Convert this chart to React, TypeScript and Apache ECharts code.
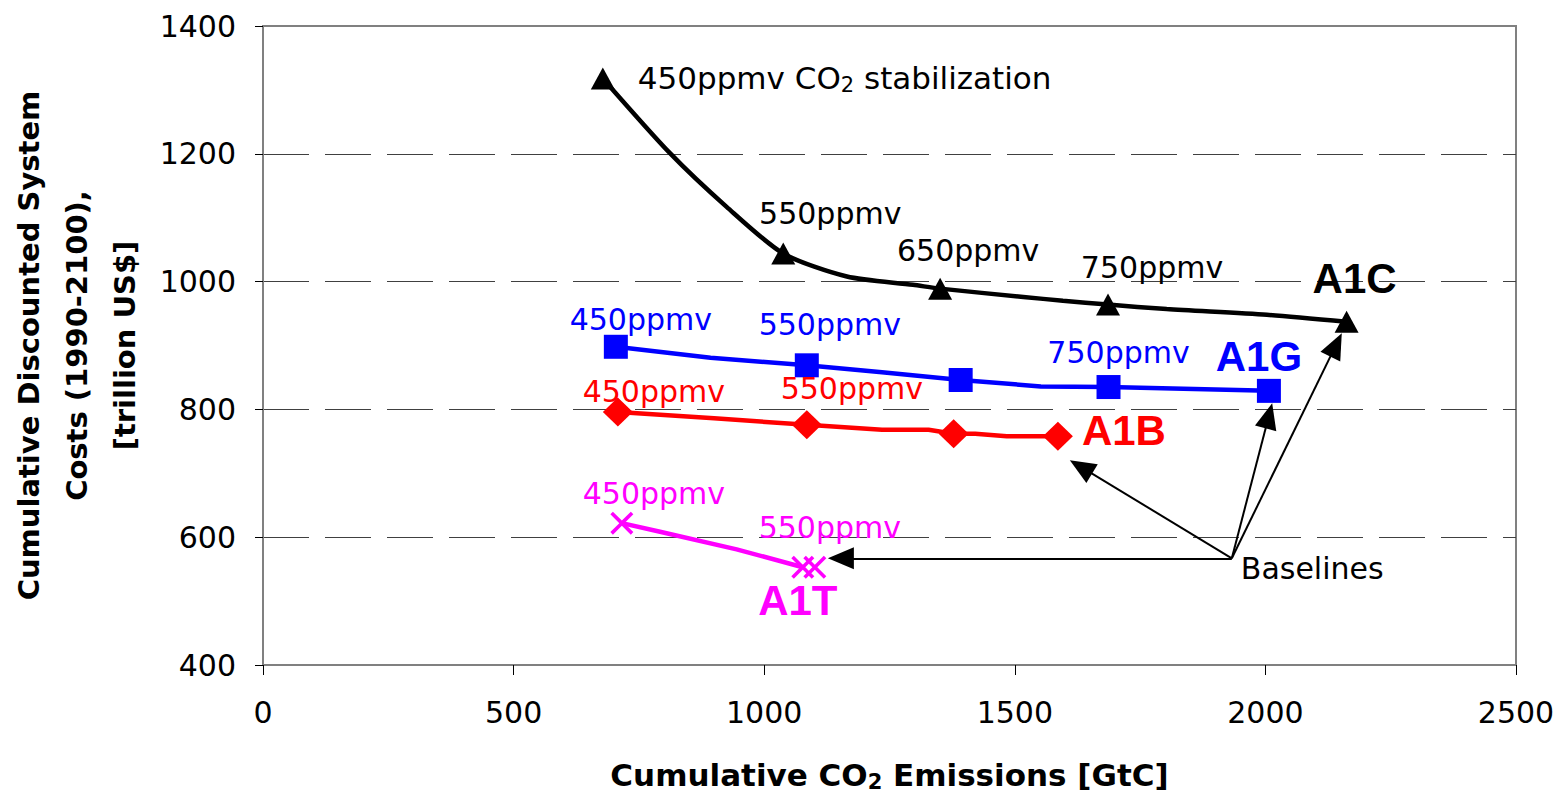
import React, { useEffect, useRef } from 'react';
import * as echarts from 'echarts';

// ---------- data ----------
const xTicks = [0, 500, 1000, 1500, 2000, 2500];
const yTicks = [400, 600, 800, 1000, 1200, 1400];

// A1C (black, triangles)
const a1cPath = [[678, 1318], [812, 1201], [925, 1117], [1038, 1044], [1165, 1008], [1297, 995], [1351, 989], [1517, 976], [1596, 970], [1686, 964], [1803, 957], [2003, 948], [2162, 937]];
const a1cMarks = [[678, 1318], [1038, 1044], [1351, 989], [1686, 964], [2162, 937]];
const a1cLabels = ['450ppmv CO{sub|2} stabilization', '550ppmv', '650ppmv', '750ppmv', 'A1C'];

// A1G (blue, squares)
const a1gPath = [[704, 898], [893, 881], [1085, 869], [1235, 858], [1392, 846], [1552, 836], [1687, 835], [2007, 829]];
const a1gMarks = [[704, 898], [1085, 869], [1392, 846], [1687, 835], [2007, 829]];
const a1gLabels = ['450ppmv', '550ppmv', '', '750ppmv', 'A1G'];

// A1B (red, diamonds)
const a1bPath = [[708, 796], [900, 786], [1085, 776], [1235, 768], [1328, 768], [1378, 762], [1421, 762], [1484, 758], [1586, 758]];
const a1bMarks = [[708, 796], [1085, 776], [1378, 762], [1586, 758]];
const a1bLabels = ['450ppmv', '550ppmv', '', 'A1B'];

// A1T (magenta, crosses)
const a1tPath = [[716, 622], [790, 609], [945, 581], [1077, 553]];
const a1tMarks = [[716, 622], [1077, 553], [1101, 553]];
const a1tLabels = ['450ppmv', '550ppmv', 'A1T'];

// Baselines annotation
const baselineFrom = [1933, 567];
const baselineTo = [[1153, 567], [1632, 710], [2007, 790], [2141, 901]];

// ---------- label layout (pixel offsets from marker centre) ----------
const a1cOffsets = [[35, 0], [47, -40], [28, -38], [44, -37], [8, -43]];
const a1gOffsets = [[25, -27], [23, -41], [0, 0], [10, -35], [-10, -34]];
const a1bOffsets = [[36, -20], [45, -36], [0, 0], [66, -6]];
const a1tOffsets = [[32, -30], [27, -40], [-17, 33]];

const FONT = 'DejaVu Sans';
const BOLD_FONT = 'Liberation Sans';
const X_SYMBOL = 'path://M0,1.1L1.1,0L5,3.9L8.9,0L10,1.1L6.1,5L10,8.9L8.9,10L5,6.1L1.1,10L0,8.9L3.9,5Z';

function buildMarks(points: number[][], labels: string[], offsets: number[][], color: string) {
  return points.map((p, i) => {
    const text = labels[i];
    if (!text) return { value: p, label: { show: false } };
    const isName = /^A1/.test(text);
    const isLong = text.indexOf('stabilization') >= 0;
    return {
      value: p,
      label: {
        show: true,
        position: 'inside',
        formatter: text,
        offset: offsets[i],
        color,
        opacity: 1,
        fontFamily: isName ? BOLD_FONT : FONT,
        fontWeight: isName ? 'bold' : 'normal',
        fontSize: isName ? 42 : isLong ? 31 : 30,
        align: isLong ? 'left' : 'center',
        verticalAlign: 'middle',
        rich: {
          sub: { fontFamily: FONT, fontSize: 21, color, verticalAlign: 'bottom', padding: [14, 0, 0, 0] },
        },
      },
    };
  });
}

export default function App() {
  const ref = useRef<HTMLDivElement>(null);
  useEffect(() => {
    const el = ref.current!;
    const chart = echarts.init(el, null, { renderer: 'svg' });

    const lineSeries = (name: string, data: number[][], color: string, smooth: number) => ({
      name,
      type: 'line',
      data,
      showSymbol: false,
      symbol: 'none',
      smooth,
      silent: true,
      z: 2,
      lineStyle: { color, width: 4.5 },
    });
    const markSeries = (name: string, data: any[], color: string, symbol: string, symbolSize: any) => ({
      name,
      type: 'scatter',
      data,
      symbol,
      symbolSize,
      silent: true,
      z: 3,
      itemStyle: { color, opacity: 1 },
    });

    const option: any = {
      animation: false,
      textStyle: { fontFamily: FONT },
      grid: {
        left: 263, right: 42, top: 26, bottom: 130,
        show: true, borderColor: '#808080', borderWidth: 2, backgroundColor: '#ffffff',
        containLabel: false,
        outerBoundsMode: 'none',
      },
      xAxis: {
        type: 'value',
        min: xTicks[0],
        max: xTicks[xTicks.length - 1],
        interval: xTicks[1] - xTicks[0],
        axisLine: { show: true, lineStyle: { color: '#808080', width: 2 } },
        axisTick: { show: true, length: 10, lineStyle: { color: '#000', width: 1 } },
        axisLabel: { fontFamily: FONT, fontSize: 30, color: '#000', margin: 32, formatter: (v: number) => String(v) },
        splitLine: { show: false },
        name: 'Cumulative CO{sub|2} Emissions [GtC]',
        nameLocation: 'middle',
        nameGap: 92,
        nameTextStyle: {
          fontFamily: FONT, fontWeight: 'bold', fontSize: 31, color: '#000',
          rich: { sub: { fontFamily: FONT, fontWeight: 'bold', fontSize: 21, color: '#000', verticalAlign: 'bottom', padding: [14, 0, 0, 0] } },
        },
      },
      yAxis: {
        type: 'value',
        min: yTicks[0],
        max: yTicks[yTicks.length - 1],
        interval: yTicks[1] - yTicks[0],
        axisLine: { show: true, lineStyle: { color: '#808080', width: 2 } },
        axisTick: { show: true, length: 8, lineStyle: { color: '#000', width: 1 } },
        axisLabel: { fontFamily: FONT, fontSize: 30, color: '#000', margin: 27, formatter: (v: number) => String(v) },
        splitLine: {
          show: true, showMinLine: false, showMaxLine: false,
          lineStyle: { color: '#404040', width: 1, type: [46, 16] },
        },
        name: 'Cumulative Discounted System\nCosts (1990-2100),\n[trillion US$]',
        nameLocation: 'middle',
        nameRotate: 90,
        nameGap: 108,
        nameTextStyle: { fontFamily: FONT, fontWeight: 'bold', fontSize: 29, lineHeight: 48, color: '#000', align: 'center' },
      },
      series: [
        lineSeries('A1C line', a1cPath, '#000000', 0.25),
        lineSeries('A1G line', a1gPath, '#0000ff', 0),
        lineSeries('A1B line', a1bPath, '#ff0000', 0),
        lineSeries('A1T line', a1tPath, '#ff00ff', 0),
        markSeries('A1C', buildMarks(a1cMarks, a1cLabels, a1cOffsets, '#000000'), '#000000', 'triangle', [24, 22]),
        markSeries('A1G', buildMarks(a1gMarks, a1gLabels, a1gOffsets, '#0000ff'), '#0000ff', 'rect', 24),
        markSeries('A1B', buildMarks(a1bMarks, a1bLabels, a1bOffsets, '#ff0000'), '#ff0000', 'diamond', [30, 29]),
        markSeries('A1T', buildMarks(a1tMarks, a1tLabels, a1tOffsets, '#ff00ff'), '#ff00ff', X_SYMBOL, 23),
        {
          name: 'Baselines',
          type: 'scatter',
          data: [{
            value: baselineFrom,
            label: {
              show: true, position: 'inside', formatter: 'Baselines', align: 'left',
              offset: [9, 10], fontFamily: FONT, fontSize: 30, color: '#000000', opacity: 1,
            },
          }],
          symbol: 'circle',
          symbolSize: 1,
          itemStyle: { color: 'rgba(0,0,0,0)', opacity: 1 },
          silent: true,
          z: 4,
          markLine: {
            silent: true,
            animation: false,
            symbol: ['none', 'triangle'],
            symbolSize: [22, 26],
            label: { show: false },
            itemStyle: { color: '#000' },
            lineStyle: { color: '#000', width: 2, type: 'solid', opacity: 1 },
            emphasis: { disabled: true },
            data: baselineTo.map((t) => [{ coord: baselineFrom }, { coord: t }]),
          },
        },
      ],
    };
    chart.setOption(option);
    return () => chart.dispose();
  }, []);
  return <div ref={ref} style={{ position: 'absolute', left: 0, top: 0, width: 1558, height: 795 }} />;
}
